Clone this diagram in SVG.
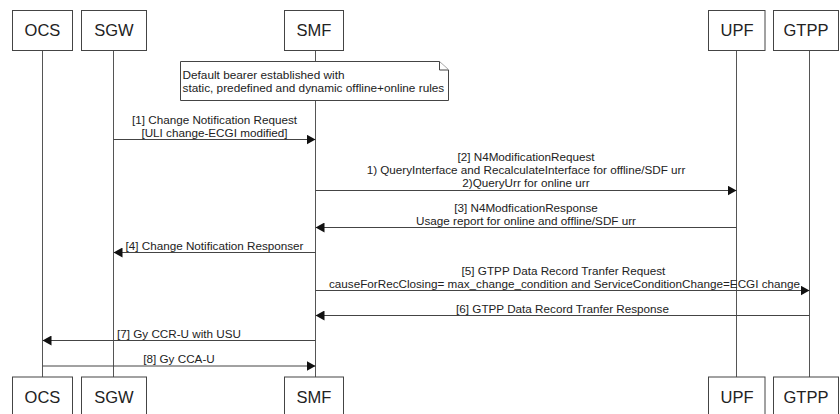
<svg xmlns="http://www.w3.org/2000/svg" width="840" height="414" viewBox="0 0 840 414">
<style>
.box{fill:#fff;stroke:#444;stroke-width:1}
.life{stroke:#555;stroke-width:1;fill:none}
.msg{stroke:#444;stroke-width:1;fill:none}
.pt{font-family:"Liberation Sans",Arial,sans-serif;font-size:16.5px;fill:#222;text-anchor:middle}
.lb{font-family:"Liberation Sans",Arial,sans-serif;font-size:11.7px;fill:#222;text-anchor:middle}
.nt{font-family:"Liberation Sans",Arial,sans-serif;font-size:11.8px;fill:#222}
</style>
<defs>
<marker id="ah" markerWidth="9" markerHeight="10" refX="9" refY="5" orient="auto" markerUnits="userSpaceOnUse">
<path d="M0,0 L9,5 L0,10 Z" fill="#111"/>
</marker>
</defs>
<g id="lifelines">
<line class="life" x1="42.5" y1="50" x2="42.5" y2="377"/>
<line class="life" x1="113.5" y1="50" x2="113.5" y2="377"/>
<line class="life" x1="315.5" y1="50" x2="315.5" y2="377"/>
<line class="life" x1="736.5" y1="50" x2="736.5" y2="377"/>
<line class="life" x1="809.5" y1="50" x2="809.5" y2="377"/>
</g>
<g id="OCS">
<rect class="box" x="12.5" y="10.5" width="60" height="40"/>
<text class="pt" x="42.5" y="36">OCS</text>
<rect class="box" x="12.5" y="377" width="60" height="40"/>
<text class="pt" x="42.5" y="402.5">OCS</text>
</g>
<g id="SGW">
<rect class="box" x="81.5" y="10.5" width="65" height="40"/>
<text class="pt" x="114" y="36">SGW</text>
<rect class="box" x="81.5" y="377" width="65" height="40"/>
<text class="pt" x="114" y="402.5">SGW</text>
</g>
<g id="SMF">
<rect class="box" x="284.5" y="10.5" width="59" height="40"/>
<text class="pt" x="314" y="36">SMF</text>
<rect class="box" x="284.5" y="377" width="59" height="40"/>
<text class="pt" x="314" y="402.5">SMF</text>
</g>
<g id="UPF">
<rect class="box" x="708.5" y="10.5" width="56.5" height="40"/>
<text class="pt" x="737" y="36">UPF</text>
<rect class="box" x="708.5" y="377" width="56.5" height="40"/>
<text class="pt" x="737" y="402.5">UPF</text>
</g>
<g id="GTPP">
<rect class="box" x="773.5" y="10.5" width="65" height="40"/>
<text class="pt" x="806" y="36">GTPP</text>
<rect class="box" x="773.5" y="377" width="65" height="40"/>
<text class="pt" x="806" y="402.5">GTPP</text>
</g>
<g id="note">
<path class="box" d="M180.5,61.5 H439.5 L448.5,70 V100.5 H180.5 Z"/>
<path class="box" d="M439.5,61.5 V70 H448.5" fill="none"/>
<text class="nt" x="182.5" y="79">Default bearer established with</text>
<text class="nt" x="182.5" y="91.5">static, predefined and dynamic offline+online rules</text>
</g>
<g id="connectors">
<line class="msg" x1="113.5" y1="139.5" x2="315.5" y2="139.5" marker-end="url(#ah)"/>
<text class="lb" x="214.5" y="124">[1] Change Notification Request</text>
<text class="lb" x="214.5" y="136.5">[ULI change-ECGI modified]</text>

<line class="msg" x1="315.5" y1="190.5" x2="736.5" y2="190.5" marker-end="url(#ah)"/>
<text class="lb" x="526" y="161">[2] N4ModificationRequest</text>
<text class="lb" x="526" y="174">1) QueryInterface and RecalculateInterface for offline/SDF urr</text>
<text class="lb" x="526" y="187">2)QueryUrr for online urr</text>

<line class="msg" x1="736.5" y1="227.5" x2="315.5" y2="227.5" marker-end="url(#ah)"/>
<text class="lb" x="526" y="211.5">[3] N4ModficationResponse</text>
<text class="lb" x="526" y="224.5">Usage report for online and offline/SDF urr</text>

<line class="msg" x1="315.5" y1="252.5" x2="113.5" y2="252.5" marker-end="url(#ah)"/>
<text class="lb" x="214.5" y="249.5">[4] Change Notification Responser</text>

<line class="msg" x1="315.5" y1="290.5" x2="809.5" y2="290.5" marker-end="url(#ah)"/>
<text class="lb" x="563.5" y="274.5">[5] GTPP Data Record Tranfer Request</text>
<text class="lb" x="564.5" y="287.5">causeForRecClosing= max_change_condition and ServiceConditionChange=ECGI change</text>

<line class="msg" x1="809.5" y1="315.5" x2="315.5" y2="315.5" marker-end="url(#ah)"/>
<text class="lb" x="562.5" y="312.5">[6] GTPP Data Record Tranfer Response</text>

<line class="msg" x1="315.5" y1="340.5" x2="42.5" y2="340.5" marker-end="url(#ah)"/>
<text class="lb" x="179" y="337.5">[7] Gy CCR-U with USU</text>

<line class="msg" x1="42.5" y1="366" x2="315.5" y2="366" marker-end="url(#ah)"/>
<text class="lb" x="179" y="363">[8] Gy CCA-U</text>
</g>
</svg>
